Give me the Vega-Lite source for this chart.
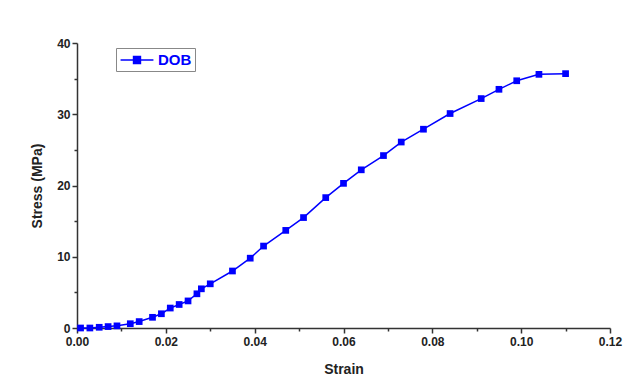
{
  "$schema": "https://vega.github.io/schema/vega-lite/v6.json",
  "width": 533,
  "height": 285,
  "autosize": "none",
  "padding": {"left": 77, "top": 43, "right": 31, "bottom": 52},
  "background": "white",
  "config": {
    "view": {"stroke": null},
    "font": "Liberation Sans",
    "axis": {
      "domainColor": "#333333",
      "domainWidth": 1.5,
      "tickColor": "#333333",
      "tickWidth": 1.5,
      "grid": false,
      "labelFlush": false,
      "labelFont": "Liberation Sans",
      "labelFontWeight": "bold",
      "labelFontSize": 12,
      "labelColor": "#222222",
      "titleFont": "Liberation Sans",
      "titleFontWeight": "bold",
      "titleFontSize": 14,
      "titleColor": "#222222"
    }
  },
  "data": {
    "values": [
      {"strain": 0.0008, "stress": 0.0, "series": "DOB"},
      {"strain": 0.0029, "stress": 0.0, "series": "DOB"},
      {"strain": 0.005, "stress": 0.1, "series": "DOB"},
      {"strain": 0.007, "stress": 0.2, "series": "DOB"},
      {"strain": 0.009, "stress": 0.3, "series": "DOB"},
      {"strain": 0.012, "stress": 0.6, "series": "DOB"},
      {"strain": 0.014, "stress": 0.9, "series": "DOB"},
      {"strain": 0.017, "stress": 1.5, "series": "DOB"},
      {"strain": 0.019, "stress": 2.0, "series": "DOB"},
      {"strain": 0.021, "stress": 2.8, "series": "DOB"},
      {"strain": 0.023, "stress": 3.3, "series": "DOB"},
      {"strain": 0.025, "stress": 3.8, "series": "DOB"},
      {"strain": 0.027, "stress": 4.8, "series": "DOB"},
      {"strain": 0.028, "stress": 5.5, "series": "DOB"},
      {"strain": 0.030, "stress": 6.2, "series": "DOB"},
      {"strain": 0.035, "stress": 8.0, "series": "DOB"},
      {"strain": 0.039, "stress": 9.8, "series": "DOB"},
      {"strain": 0.042, "stress": 11.5, "series": "DOB"},
      {"strain": 0.047, "stress": 13.7, "series": "DOB"},
      {"strain": 0.051, "stress": 15.5, "series": "DOB"},
      {"strain": 0.056, "stress": 18.3, "series": "DOB"},
      {"strain": 0.060, "stress": 20.3, "series": "DOB"},
      {"strain": 0.064, "stress": 22.2, "series": "DOB"},
      {"strain": 0.069, "stress": 24.2, "series": "DOB"},
      {"strain": 0.073, "stress": 26.1, "series": "DOB"},
      {"strain": 0.078, "stress": 27.9, "series": "DOB"},
      {"strain": 0.084, "stress": 30.1, "series": "DOB"},
      {"strain": 0.091, "stress": 32.2, "series": "DOB"},
      {"strain": 0.095, "stress": 33.5, "series": "DOB"},
      {"strain": 0.099, "stress": 34.7, "series": "DOB"},
      {"strain": 0.104, "stress": 35.6, "series": "DOB"},
      {"strain": 0.110, "stress": 35.7, "series": "DOB"}
    ]
  },
  "resolve": {"axis": {"x": "independent", "y": "independent"}},
  "layer": [
    {
      "mark": {"type": "line", "color": "#0000ff", "strokeWidth": 1.5},
      "encoding": {
        "x": {
          "field": "strain", "type": "quantitative",
          "scale": {"domain": [0, 0.12], "nice": false, "zero": false},
          "axis": {"orient": "bottom", "values": [0, 0.02, 0.04, 0.06, 0.08, 0.1, 0.12], "format": ".2f", "title": "Strain", "tickSize": 5, "labelPadding": 3, "titlePadding": 15}
        },
        "y": {
          "field": "stress", "type": "quantitative",
          "scale": {"domain": [0, 40], "nice": false},
          "axis": {"orient": "left", "values": [0, 10, 20, 30, 40], "title": "Stress (MPa)", "tickSize": 5, "labelPadding": 2, "titlePadding": 12}
        }
      }
    },
    {
      "mark": {"type": "point", "shape": "square", "filled": true, "size": 45, "opacity": 1},
      "encoding": {
        "x": {"field": "strain", "type": "quantitative", "axis": {"orient": "bottom", "values": [0.01, 0.03, 0.05, 0.07, 0.09, 0.11], "labels": false, "domain": false, "tickSize": 3, "title": null}},
        "y": {"field": "stress", "type": "quantitative", "axis": {"orient": "left", "values": [5, 15, 25, 35], "labels": false, "domain": false, "tickSize": 3, "title": null}},
        "color": {
          "field": "series", "type": "nominal",
          "scale": {"range": ["#0000ff"]},
          "legend": {
            "title": null,
            "orient": "none",
            "legendX": 39,
            "legendY": 5,
            "strokeColor": "#888888",
            "fillColor": "white",
            "padding": 3,
            "symbolType": "M-2,0H2M-0.42,-0.42H0.42V0.42H-0.42Z",
            "symbolSize": 270,
            "symbolOffset": 9,
            "symbolStrokeWidth": 1.5,
            "symbolStrokeColor": "#0000ff",
            "symbolFillColor": "#0000ff",
            "labelColor": "#0000ff",
            "labelFontSize": 15,
            "labelFontWeight": "bold",
            "labelFont": "Liberation Sans",
            "labelOffset": 12
          }
        }
      }
    }
  ]
}
